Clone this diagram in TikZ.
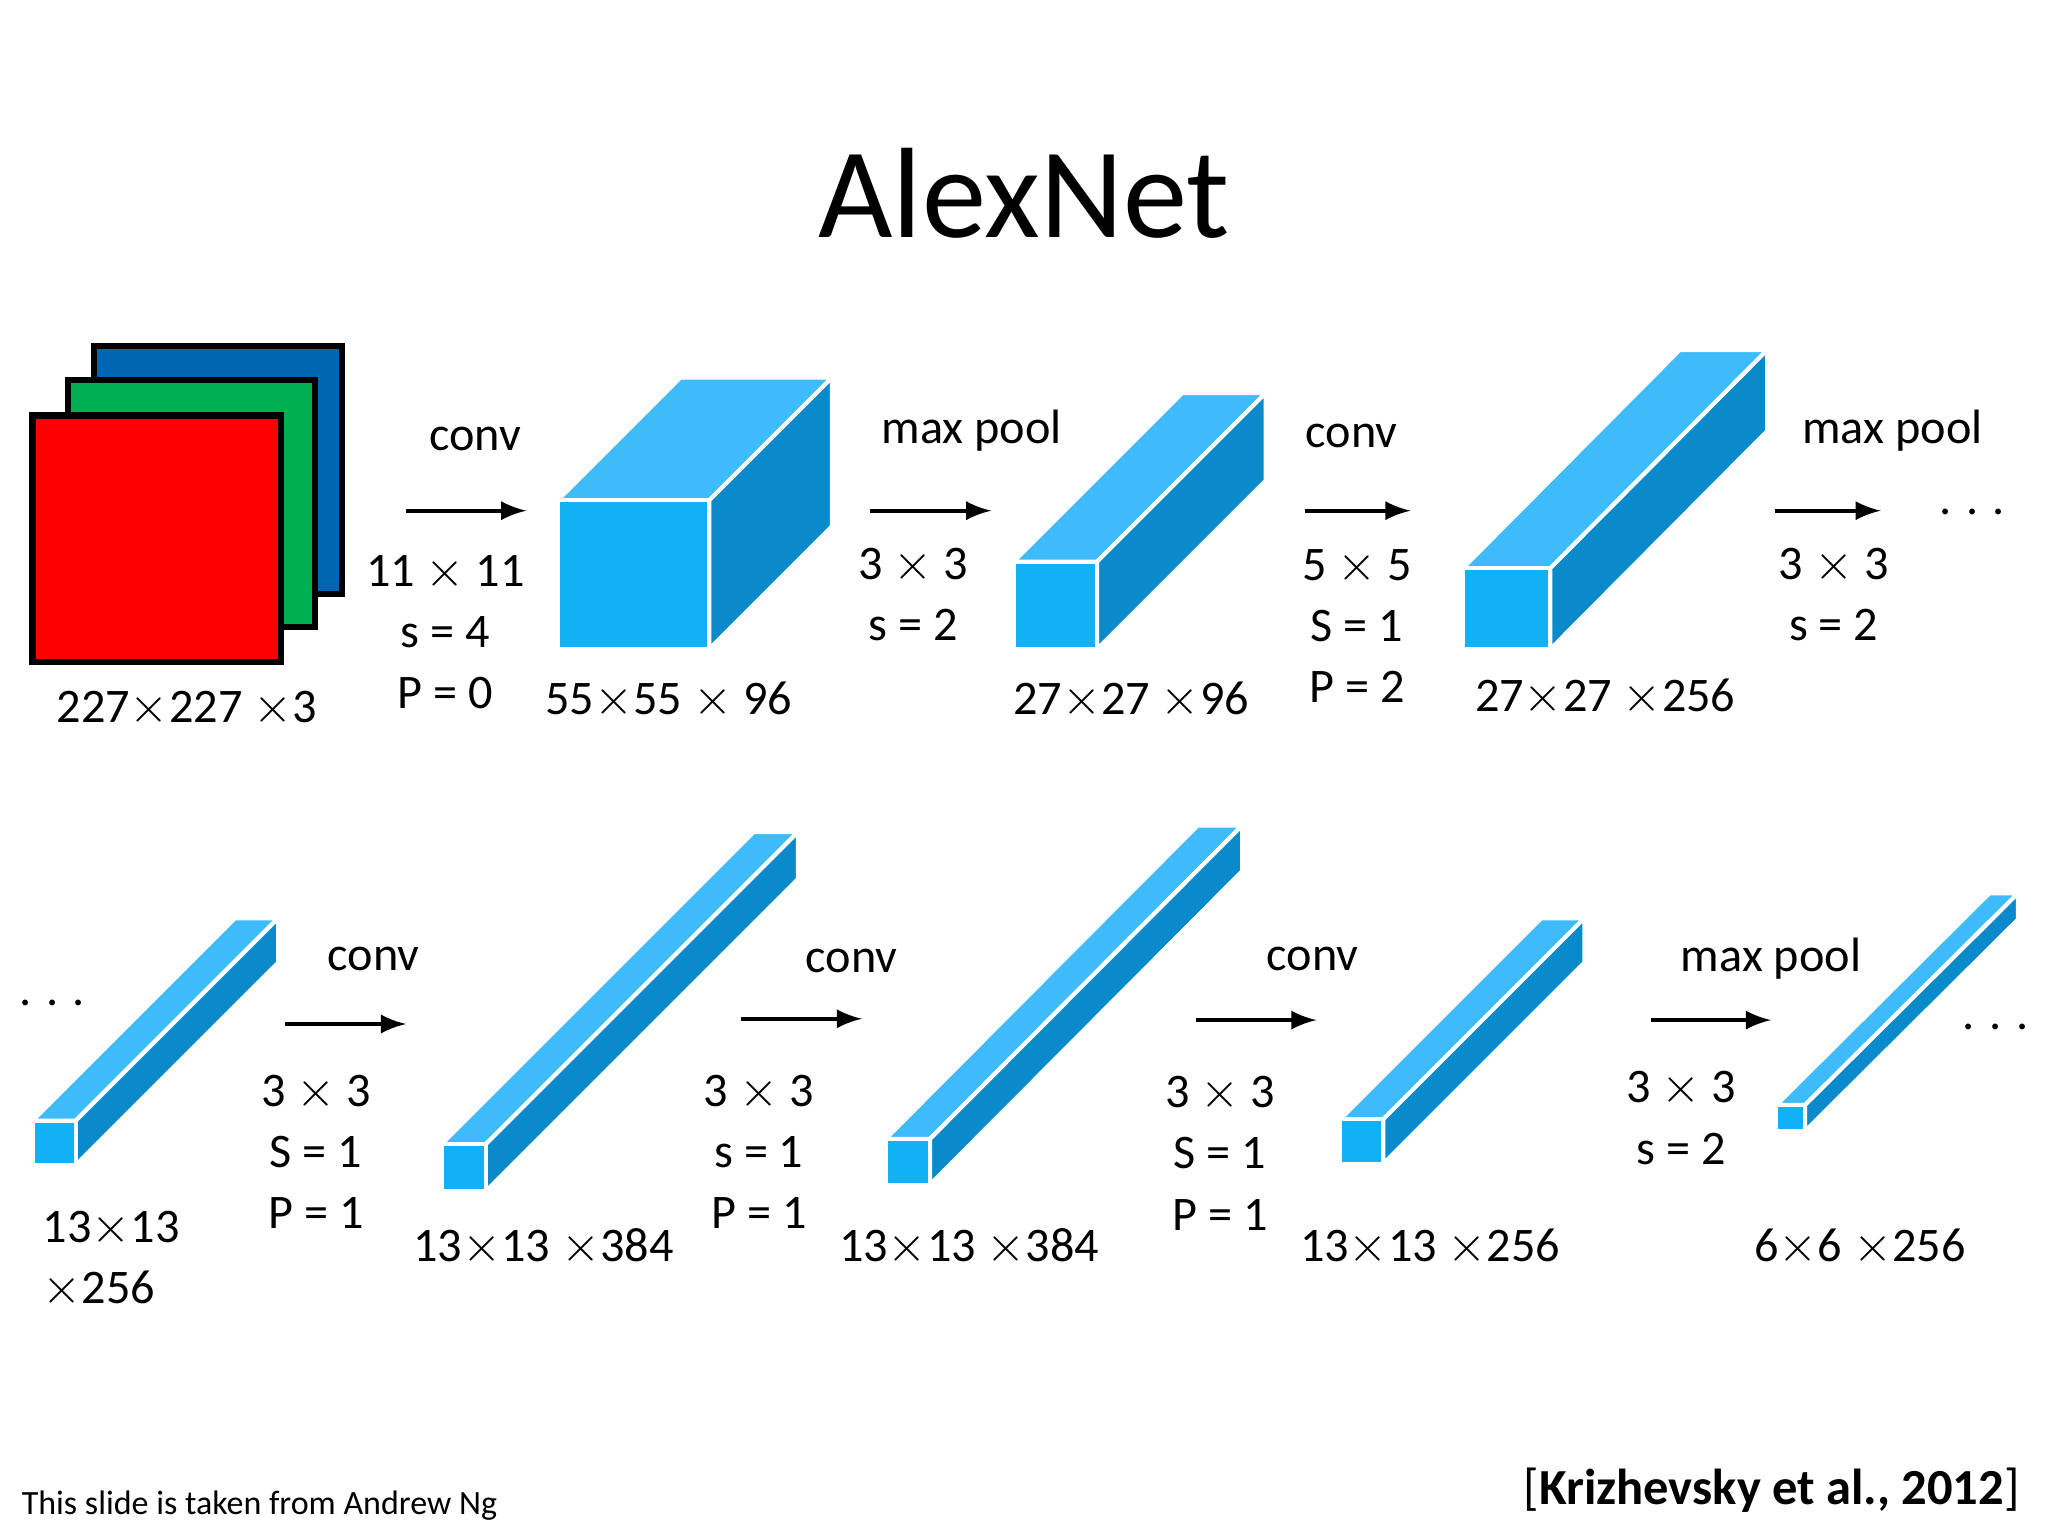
\documentclass[tikz,border=0pt]{standalone}
\usepackage{fontspec}
\setmainfont{Carlito}
\definecolor{cfront}{HTML}{12B0F5}
\definecolor{ctop}{HTML}{3DBBFA}
\definecolor{cside}{HTML}{0A8ACB}
\newcommand\cub[6]{%
\filldraw[fill=ctop,draw=white,line width=0.9pt,line join=round] (#1,#2)--(#1+#5,#2-#6)--(#3+#5,#2-#6)--(#3,#2)--cycle;
\filldraw[fill=cside,draw=white,line width=0.9pt,line join=round] (#3,#2)--(#3+#5,#2-#6)--(#3+#5,#4-#6)--(#3,#4)--cycle;
\filldraw[fill=cfront,draw=white,line width=0.9pt] (#1,#2) rectangle (#3,#4);}
\tikzset{lbl/.style={font=\fontsize{10.5pt}{13.3pt}\selectfont,align=center,inner sep=0pt},
arr/.style={-latex,line width=0.9pt},
plane/.style={draw=black,line width=1.4pt}}
\begin{document}
\begin{tikzpicture}[x=0.01cm,y=-0.01cm]
\useasboundingbox (0,0) rectangle (1568,1176);
\node[inner sep=0pt,font=\fontsize{28pt}{30pt}\selectfont] (title) at (784,148) {AlexNet};
% input planes
\filldraw[plane,fill={rgb,255:red,0;green,102;blue,178}] (72,265) rectangle (262,455);
\filldraw[plane,fill={rgb,255:red,0;green,176;blue,80}] (52,291) rectangle (241,480);
\filldraw[plane,fill=red] (25,318) rectangle (215,507);
\node[lbl] (l0) at (143,543) {227$\times$227 $\times$3};
% row 1 cuboids
\cub{427}{383}{543}{497}{94}{94}
\cub{776}{430}{840}{497}{129}{129}
\cub{1120}{435}{1187}{497}{166}{167}
% row 2
\cub{25}{858}{58}{892}{155}{155}
\cub{338}{876}{372}{912}{239}{239}
\cub{678}{872}{712}{907}{239}{240}
\cub{1026}{857}{1059}{891}{154}{154}
\cub{1360}{846}{1382}{866}{163}{162}
% row 1 labels
\node[lbl] (c1) at (364,336) {conv};
\coordinate (a1s) at (311,391); \coordinate (a1e) at (403,391);
\draw[arr] (a1s)--(a1e);
\node[lbl] (p1) at (341,484) {11 $\times$ 11\\s = 4\\P = 0};
\node[lbl] (l1) at (512,536) {55$\times$55 $\times$ 96};
\node[lbl] (c2) at (744,330) {max pool};
\coordinate (a2s) at (666,391); \coordinate (a2e) at (759,391);
\draw[arr] (a2s)--(a2e);
\node[lbl] (p2) at (699,455) {3 $\times$ 3\\s = 2};
\node[lbl] (l2) at (866,536) {27$\times$27 $\times$96};
\node[lbl] (c3) at (1035,334) {conv};
\coordinate (a3s) at (999,391); \coordinate (a3e) at (1080,391);
\draw[arr] (a3s)--(a3e);
\node[lbl] (p3) at (1039,479) {5 $\times$ 5\\S = 1\\P = 2};
\node[lbl] (l3) at (1229,534) {27$\times$27 $\times$256};
\node[lbl] (c4) at (1449,330) {max pool};
\coordinate (a4s) at (1359,391); \coordinate (a4e) at (1440,391);
\draw[arr] (a4s)--(a4e);
\node[lbl] (p4) at (1404,455) {3 $\times$ 3\\s = 2};
\node[lbl] (d1) at (1510,392) {. . .};
% row 2 labels
\node[lbl] (d2) at (40,768) {. . .};
\node[lbl,align=left] (l4) at (85,964) {13$\times$13\\$\times$256};
\node[lbl] (c5) at (286,734) {conv};
\coordinate (a5s) at (218,784); \coordinate (a5e) at (311,784);
\draw[arr] (a5s)--(a5e);
\node[lbl] (p5) at (242,882) {3 $\times$ 3\\S = 1\\P = 1};
\node[lbl] (l5) at (416,955) {13$\times$13 $\times$384};
\node[lbl] (c6) at (652,736) {conv};
\coordinate (a6s) at (567,780); \coordinate (a6e) at (660,780);
\draw[arr] (a6s)--(a6e);
\node[lbl] (p6) at (581,882) {3 $\times$ 3\\s = 1\\P = 1};
\node[lbl] (l6) at (742,955) {13$\times$13 $\times$384};
\node[lbl] (c7) at (1005,734) {conv};
\coordinate (a7s) at (916,781); \coordinate (a7e) at (1008,781);
\draw[arr] (a7s)--(a7e);
\node[lbl] (p7) at (934,883) {3 $\times$ 3\\S = 1\\P = 1};
\node[lbl] (l7) at (1095,955) {13$\times$13 $\times$256};
\node[lbl] (c8) at (1356,734) {max pool};
\coordinate (a8s) at (1264,781); \coordinate (a8e) at (1356,781);
\draw[arr] (a8s)--(a8e);
\node[lbl] (p8) at (1287,856) {3 $\times$ 3\\s = 2};
\node[lbl] (l8) at (1424,955) {6$\times$6 $\times$256};
\node[lbl] (d3) at (1528,786) {. . .};
% footer
\node[inner sep=0pt,anchor=west,font=\fontsize{7.4pt}{9pt}\selectfont] (ft) at (16,1153) {This slide is taken from Andrew Ng};
\node[inner sep=0pt,anchor=east,font=\fontsize{11pt}{13pt}\selectfont] (cite) at (1547,1141) {[\textbf{Krizhevsky et al., 2012}]};
\end{tikzpicture}
\end{document}
